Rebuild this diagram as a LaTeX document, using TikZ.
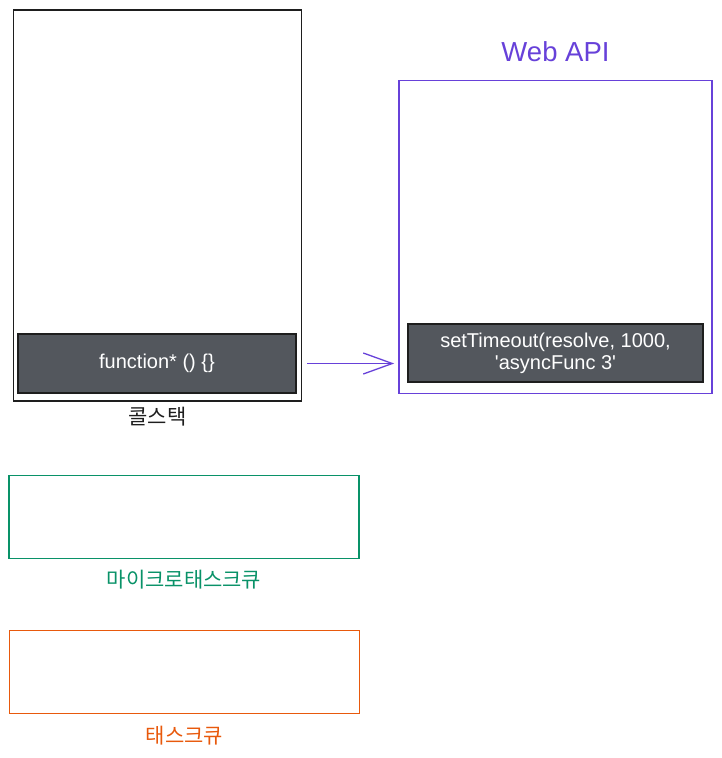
\documentclass[tikz,border=0pt]{standalone}
\usepackage{fontspec}
\setmainfont{Liberation Sans}
\newfontfamily\kr{Noto Sans CJK KR}
\usetikzlibrary{positioning,calc,arrows.meta}
\definecolor{inkblack}{HTML}{1E1E1E}
\definecolor{apiviolet}{HTML}{6741D9}
\definecolor{mqgreen}{HTML}{099268}
\definecolor{tqorange}{HTML}{E8590C}
\definecolor{fngray}{HTML}{53575D}

\begin{document}
\begin{tikzpicture}[x=1pt,y=-1pt,
    frame/.style={draw=#1, line width=1.6pt, inner sep=0pt},
    fnbox/.style={draw=inkblack, fill=fngray, line width=1.4pt, inner sep=0pt,
        text=white, align=center, font=\fontsize{20}{25}\selectfont},
    lbl/.style={inner sep=0pt, font=\fontsize{21}{24}\selectfont\kr}]
    \useasboundingbox (0,0) rectangle (721,758);

    % call stack
    \node[frame=inkblack, minimum width=288pt, minimum height=391pt] (stack) at (157.5,205.5) {};
    \node[fnbox, minimum width=278pt, minimum height=59pt] (fn) at (157,363.5) {\raisebox{-2pt}{function* () \{\}}};
    \node[lbl, text=inkblack] (stacklbl) at ([yshift=-15pt]stack.south) {콜스택};

    % web api
    \node[frame=apiviolet, minimum width=313pt, minimum height=313pt] (webapi) at (555.5,237) {};
    \node[inner sep=0pt, text=apiviolet, font=\fontsize{27.5}{30}\selectfont] (apilbl) at ([yshift=28pt]webapi.north) {Web API};
    \node[fnbox, minimum width=295pt, minimum height=58pt] (timer) at (555.5,353)
        {\raisebox{-3pt}{\shortstack{setTimeout(resolve, 1000,\\[1pt]\textquotesingle asyncFunc 3\textquotesingle}}};

    \draw[apiviolet, line width=1.3pt, -{Straight Barb[length=29pt,width=21pt]}]
        ([xshift=5pt]stack.east |- fn.center) -- ([xshift=-4pt]webapi.west |- fn.center);

    % queues
    \node[frame=mqgreen, minimum width=350pt, minimum height=83pt] (micro) at (184,517) {};
    \node[lbl, text=mqgreen] (microlbl) at ([yshift=-20pt]micro.south) {마이크로태스크큐};
    \node[frame=tqorange, minimum width=350pt, minimum height=83pt] (task) at (184.5,672) {};
    \node[lbl, text=tqorange] (tasklbl) at ([yshift=-21pt]task.south) {태스크큐};
\end{tikzpicture}
\end{document}
